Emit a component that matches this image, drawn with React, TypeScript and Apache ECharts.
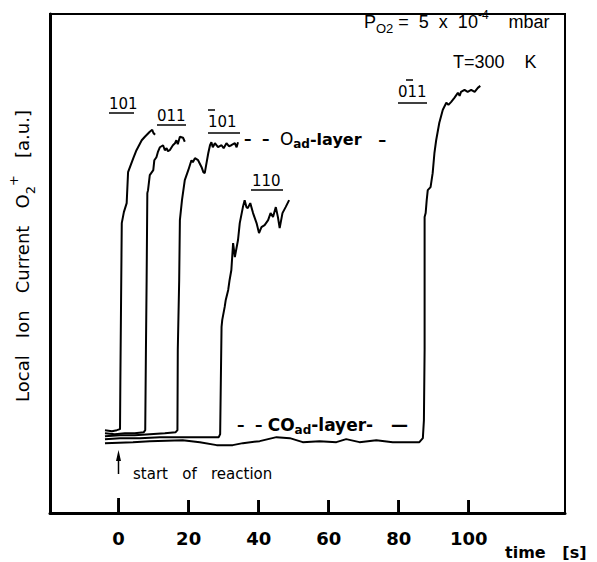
import React, { useEffect, useRef } from "react";
import * as echarts from "echarts";

// time [s], ion current [a.u.]
const xTickValues = [0, 20, 40, 60, 80, 100];

const curve101: number[][] = [
  [-3.9, 16.6], [-1.9, 16.4], [-0.5, 16.6], [0.4, 16.8], [0.5, 26.7], [0.7, 42.7], [0.9, 58.1],
  [1.5, 60.3], [2.3, 62.1], [2.7, 68.3], [4.2, 71.1], [5.1, 72.7], [6.6, 74.7], [7.5, 75.4],
  [8.9, 76.4], [9.6, 76.8], [9.9, 76.2], [10.4, 75.8],
];

const curve011: number[][] = [
  [-3.9, 16.0], [-1.1, 15.8], [1.8, 16.0], [4.6, 16.0], [7.2, 16.2], [7.6, 16.6], [7.8, 32.7],
  [8.0, 46.7], [8.2, 64.1], [8.4, 64.7], [8.9, 67.7], [9.9, 68.7], [10.2, 70.7], [10.8, 71.3],
  [11.2, 72.3], [11.8, 73.3], [12.7, 73.7], [13.2, 72.7], [13.7, 73.1], [14.1, 72.5], [14.6, 72.7],
  [15.5, 73.7], [16.1, 74.1], [16.5, 74.7], [16.9, 73.9], [17.5, 75.4], [18.4, 75.2], [18.9, 74.4],
];

const curveBar101: number[][] = [
  [-3.9, 15.4], [0.4, 15.6], [4.6, 15.6], [8.9, 15.8], [13.2, 16.0], [16.3, 16.2], [16.8, 16.6],
  [16.9, 32.7], [17.3, 46.7], [17.5, 58.7], [18.1, 62.7], [18.9, 66.7], [19.2, 67.3], [19.9, 68.7],
  [20.8, 70.7], [21.2, 70.3], [21.8, 71.1], [22.7, 70.7], [23.7, 69.3], [24.2, 68.3], [24.6, 68.1],
  [25.0, 69.7], [25.6, 72.1], [26.1, 73.7], [26.5, 74.3], [26.9, 73.3], [27.5, 74.1], [28.4, 73.3],
  [29.4, 73.7], [30.0, 73.1], [30.8, 74.1], [31.5, 73.5], [32.2, 73.7], [33.2, 74.1], [33.7, 73.3],
  [34.1, 74.3],
];

const curve110: number[][] = [
  [-3.9, 14.8], [0.4, 15.0], [6.1, 15.0], [11.8, 15.2], [17.5, 15.2], [23.2, 15.2], [28.6, 15.2],
  [29.0, 15.8], [29.2, 26.7], [29.4, 37.3], [29.6, 38.7], [30.3, 41.3], [30.6, 42.7], [31.3, 44.7],
  [31.7, 46.7], [32.2, 48.7], [32.7, 54.1], [33.2, 51.3], [34.1, 54.7], [34.6, 58.1], [35.5, 61.3],
  [36.0, 62.7], [36.5, 61.3], [36.9, 61.1], [37.6, 62.1], [38.4, 60.1], [39.4, 58.1], [40.1, 56.1],
  [40.8, 57.3], [41.7, 57.7], [42.7, 58.7], [43.4, 60.1], [44.1, 59.3], [44.9, 61.3], [45.5, 59.3],
  [46.0, 57.1], [46.8, 60.1], [47.7, 61.3], [48.7, 62.7],
];

const curve0bar11: number[][] = [
  [-3.9, 14.0], [4.1, 14.2], [8.9, 14.4], [18.3, 14.6], [23.2, 14.2], [28.0, 13.6], [32.6, 13.6],
  [35.5, 14.0], [40.3, 14.4], [45.1, 15.2], [48.9, 15.0], [52.6, 14.2], [57.4, 14.4], [62.2, 14.2],
  [65.0, 14.8], [68.8, 14.2], [73.6, 14.6], [78.3, 14.2], [83.1, 14.2], [85.9, 14.2], [86.9, 15.0],
  [87.2, 18.6], [87.4, 32.7], [87.4, 46.7], [87.4, 59.3], [87.7, 60.1], [88.0, 62.7], [88.3, 64.7],
  [89.1, 65.3], [89.7, 68.1], [90.2, 72.1], [90.7, 74.7], [91.6, 78.2], [92.6, 80.8], [93.6, 82.2],
  [94.2, 81.8], [95.0, 82.4], [95.9, 83.2], [96.9, 84.2], [97.4, 83.6], [97.8, 84.4], [98.8, 84.8],
  [99.7, 84.4], [100.7, 84.8], [101.7, 84.4], [102.6, 85.2], [103.3, 85.6],
];

const seriesList = [
  { name: "101", data: curve101 },
  { name: "011", data: curve011 },
  { name: "-101", data: curveBar101 },
  { name: "110", data: curve110 },
  { name: "0-11", data: curve0bar11 },
];

const DV = "'DejaVu Sans', sans-serif";
const LS = "'Liberation Sans', Arial, sans-serif";

function bar(x1: number, x2: number, y: number, w = 1.5) {
  return { type: "line", shape: { x1, y1: y, x2, y2: y }, style: { stroke: "#000", lineWidth: w } };
}

function txt(x: number, y: number, text: string, font: string, rich?: any, extra?: any, align = "left") {
  return {
    type: "text",
    x,
    y,
    ...(extra || {}),
    style: {
      text,
      font,
      fill: "#000",
      align,
      verticalAlign: "middle",
      ...(rich ? { rich } : {}),
    },
  };
}

export default function App() {
  const ref = useRef<HTMLDivElement>(null);
  useEffect(() => {
    document.body.style.margin = "0";
    const chart = echarts.init(ref.current!, null, { renderer: "svg" });
    const layerRich = {
      m: { fontSize: 15, fontFamily: DV, fontWeight: "bold", fill: "#000", lineHeight: 22, verticalAlign: "middle" },
      l: { fontSize: 16, fontFamily: DV, fontWeight: "bold", fill: "#000", lineHeight: 22, verticalAlign: "middle" },
      k: { fontSize: 17, fontFamily: DV, fontWeight: "bold", fill: "#000", lineHeight: 22, verticalAlign: "middle" },
      o: { fontSize: 17, fontFamily: DV, fill: "#000", lineHeight: 22, verticalAlign: "middle" },
      c: { fontSize: 17, fontFamily: DV, fontWeight: "bold", fill: "#000", lineHeight: 22, verticalAlign: "middle" },
      s: { fontSize: 12, fontFamily: DV, fontWeight: "bold", fill: "#000", lineHeight: 12, verticalAlign: "bottom" },
    };
    const textGraphic: any[] = [
      // y axis title
      txt(22, 256, "{m|Local   Ion   Current   O}{s|2}{u|+}{m|   [a.u.]}", `18px ${DV}`, {
        m: { fontSize: 18, fontFamily: DV, fill: "#000", lineHeight: 30, verticalAlign: "middle" },
        s: { fontSize: 13, fontFamily: DV, fill: "#000", lineHeight: 13, verticalAlign: "bottom" },
        u: { fontSize: 13, fontFamily: DV, fill: "#000", lineHeight: 13, verticalAlign: "top" },
      }, { rotation: Math.PI / 2 }, "center"),
      // x axis title
      txt(505, 552, "time   [s]", `bold 16px ${DV}`),
      // conditions
      txt(364, 22, "{m|P}{s|O2}{m| =  5  x  10}{u|-4}{m|    mbar}", `18px ${LS}`, {
        m: { fontSize: 18, fontFamily: LS, fill: "#000", lineHeight: 26, verticalAlign: "middle" },
        s: { fontSize: 13, fontFamily: LS, fill: "#000", lineHeight: 13, verticalAlign: "bottom" },
        u: { fontSize: 12, fontFamily: LS, fill: "#000", lineHeight: 12, verticalAlign: "top" },
      }),
      txt(453, 62, "T=300    K", `18px ${LS}`),
      // face labels
      txt(109, 104, "101", `15px ${DV}`),
      bar(109, 134, 113),
      txt(157, 116, "011", `15px ${DV}`),
      bar(157, 186, 125),
      txt(208, 122, "101", `15px ${DV}`),
      bar(208, 215, 110),
      bar(208, 240, 133),
      txt(252, 181, "110", `15px ${DV}`),
      bar(251, 283, 190),
      txt(398, 92, "011", `15px ${DV}`),
      bar(406, 413, 80),
      bar(398, 427, 103),
      // layer labels
      txt(244, 139, "{m|–  –  }{o|O}{s|ad}{l|-layer   –}", `15px ${DV}`, layerRich),
      txt(237, 425, "{m|–  – }{c|CO}{s|ad}{k|-layer-   —}", `15px ${DV}`, layerRich),
      // start of reaction
      txt(133, 474, "start   of   reaction", `15px ${DV}`),
      { type: "line", shape: { x1: 118.5, y1: 474, x2: 118.5, y2: 456 }, style: { stroke: "#000", lineWidth: 1.5 } },
      { type: "polygon", shape: { points: [[116, 461], [121, 461], [118.5, 450]] }, style: { fill: "#000" } },
    ];
    chart.setOption({
      animation: false,
      backgroundColor: "#fff",
      grid: { left: 50, right: 32, top: 14, bottom: 49, show: true, borderColor: "#000", borderWidth: 2 },
      xAxis: {
        type: "value",
        min: -19.6,
        max: 127.5,
        axisLine: { show: true, onZero: false, lineStyle: { color: "#000", width: 3 } },
        axisTick: { show: true, inside: true, length: 13, customValues: xTickValues, lineStyle: { color: "#000", width: 2.5 } },
        axisLabel: {
          customValues: xTickValues,
          margin: 16,
          color: "#000",
          fontFamily: DV,
          fontWeight: "bold",
          fontSize: 18,
        },
        splitLine: { show: false },
      },
      yAxis: {
        type: "value",
        min: 0,
        max: 100,
        axisLine: { show: true, onZero: false, lineStyle: { color: "#000", width: 3 } },
        axisTick: { show: false },
        axisLabel: { show: false },
        splitLine: { show: false },
      },
      series: [
        ...seriesList.map((s) => ({
          type: "line",
          name: s.name,
          data: s.data,
          symbol: "none",
          showSymbol: false,
          lineStyle: { color: "#000", width: 2 },
        })),
        {
          type: "custom",
          name: "ticks",
          clip: false,
          z: 10,
          data: xTickValues.map((v) => [v, 0]),
          renderItem: (params: any, api: any) => {
            const p = api.coord([api.value(0), api.value(1)]);
            const h = api.value(0) === 0 ? 15 : 13;
            return {
              type: "rect",
              shape: { x: p[0] - 1.25, y: p[1] - h, width: 2.5, height: h },
              style: { fill: "#000" },
            };
          },
        },
      ],
    });
    // tick marks placed through the x axis scale, drawn first in the graphic list
    const tickEls = xTickValues.map((v) => {
      const p = chart.convertToPixel({ xAxisIndex: 0, yAxisIndex: 0 }, [v, 0]) as number[];
      const h = v === 0 ? 15 : 13;
      return {
        type: "rect",
        z: 100,
        shape: { x: p[0] - 1.25, y: p[1] - h, width: 2.5, height: h },
        style: { fill: "#000" },
      };
    });
    chart.setOption({ graphic: [...tickEls, ...textGraphic] });
    return () => chart.dispose();
  }, []);
  return <div ref={ref} style={{ position: "fixed", left: 0, top: 0, width: 597, height: 562, background: "#fff" }} />;
}
